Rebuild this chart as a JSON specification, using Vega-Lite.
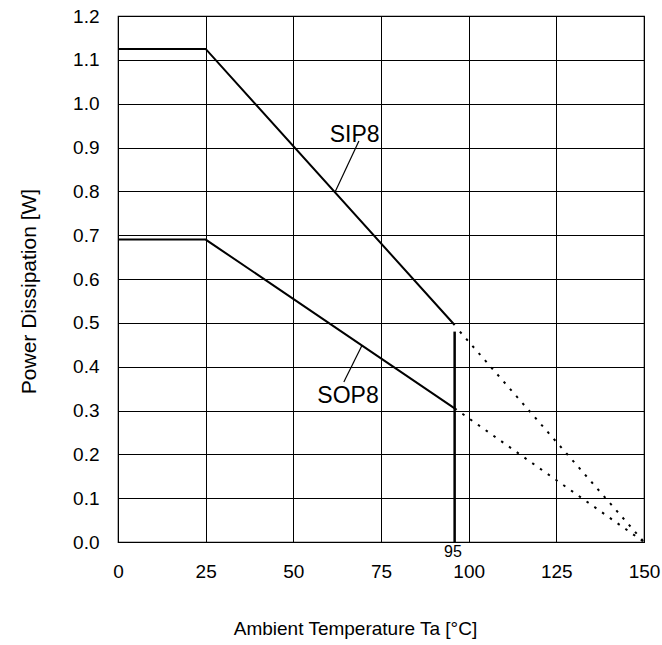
{
  "$schema": "https://vega.github.io/schema/vega-lite/v6.json",
  "autosize": "none",
  "width": 526,
  "height": 526,
  "padding": {"left": 118, "top": 16, "right": 18, "bottom": 103},
  "background": "white",
  "config": {
    "font": "Liberation Sans",
    "view": {"stroke": "black", "strokeWidth": 1.2},
    "axis": {
      "gridColor": "black",
      "gridOpacity": 1,
      "gridWidth": 1,
      "domainColor": "black",
      "ticks": false,
      "labelFlush": false,
      "labelColor": "black",
      "labelFont": "Liberation Sans",
      "labelFontSize": 19,
      "titleFont": "Liberation Sans",
      "titleFontWeight": "normal",
      "titleColor": "black"
    }
  },
  "datasets": {
    "curves": [
      {"series": "SIP8", "part": "solid", "x": 0, "y": 1.125},
      {"series": "SIP8", "part": "solid", "x": 25, "y": 1.125},
      {"series": "SIP8", "part": "solid", "x": 96, "y": 0.495},
      {"series": "SOP8", "part": "solid", "x": 0, "y": 0.69},
      {"series": "SOP8", "part": "solid", "x": 25, "y": 0.69},
      {"series": "SOP8", "part": "solid", "x": 96, "y": 0.305},
      {"series": "SIP8", "part": "dashed", "x": 97.5, "y": 0.48},
      {"series": "SIP8", "part": "dashed", "x": 150, "y": 0},
      {"series": "SOP8", "part": "dashed", "x": 96, "y": 0.305},
      {"series": "SOP8", "part": "dashed", "x": 150, "y": 0}
    ],
    "leaders": [
      {"x": 68.7, "y": 0.915, "x2": 62.0, "y2": 0.80},
      {"x": 69.6, "y": 0.449, "x2": 64.4, "y2": 0.365}
    ],
    "labels": [
      {"x": 67.5, "y": 0.913, "text": "SIP8"},
      {"x": 65.6, "y": 0.316, "text": "SOP8"}
    ]
  },
  "layer": [
    {
      "data": {"name": "curves"},
      "transform": [{"filter": "datum.part === 'solid'"}],
      "mark": {"type": "line", "color": "black", "strokeWidth": 2},
      "encoding": {
        "x": {
          "field": "x", "type": "quantitative",
          "scale": {"domain": [0, 150], "nice": false},
          "axis": {
            "values": [0, 25, 50, 75, 100, 125, 150],
            "labelPadding": 20,
            "title": "Ambient Temperature Ta [°C]",
            "titleFontSize": 19,
            "titleX": 237,
            "titleY": 92,
            "titleAlign": "center",
            "titleBaseline": "alphabetic"
          }
        },
        "y": {
          "field": "y", "type": "quantitative",
          "scale": {"domain": [0, 1.2], "nice": false},
          "axis": {
            "values": [0, 0.1, 0.2, 0.3, 0.4, 0.5, 0.6, 0.7, 0.8, 0.9, 1.0, 1.1, 1.2],
            "format": ".1f",
            "labelPadding": 19,
            "title": "Power Dissipation [W]",
            "titleFontSize": 21,
            "titleAngle": -90,
            "titleX": -83,
            "titleY": 275,
            "titleAlign": "center",
            "titleBaseline": "alphabetic"
          }
        },
        "detail": {"field": "series"}
      }
    },
    {
      "data": {"name": "curves"},
      "transform": [{"filter": "datum.part === 'dashed'"}],
      "mark": {"type": "line", "color": "black", "strokeWidth": 2, "strokeDash": [2.5, 7]},
      "encoding": {
        "x": {"field": "x", "type": "quantitative"},
        "y": {"field": "y", "type": "quantitative"},
        "detail": {"field": "series"}
      }
    },
    {
      "data": {"values": [{"x": 96, "y": 0, "y2": 0.48}]},
      "mark": {"type": "rule", "color": "black", "strokeWidth": 2.5},
      "encoding": {
        "x": {"field": "x", "type": "quantitative"},
        "y": {"field": "y", "type": "quantitative"},
        "y2": {"field": "y2"}
      }
    },
    {
      "data": {"name": "leaders"},
      "mark": {"type": "rule", "color": "black", "strokeWidth": 1.2},
      "encoding": {
        "x": {"field": "x", "type": "quantitative"},
        "y": {"field": "y", "type": "quantitative"},
        "x2": {"field": "x2"},
        "y2": {"field": "y2"}
      }
    },
    {
      "data": {"name": "labels"},
      "mark": {"type": "text", "fontSize": 23, "color": "black", "align": "center", "baseline": "alphabetic"},
      "encoding": {
        "x": {"field": "x", "type": "quantitative"},
        "y": {"field": "y", "type": "quantitative"},
        "text": {"field": "text"}
      }
    },
    {
      "data": {"values": [{"x": 95.5, "y": 0, "text": "95"}]},
      "mark": {"type": "text", "fontSize": 16, "color": "black", "align": "center", "baseline": "top", "dy": 2},
      "encoding": {
        "x": {"field": "x", "type": "quantitative"},
        "y": {"field": "y", "type": "quantitative"},
        "text": {"field": "text"}
      }
    }
  ]
}
